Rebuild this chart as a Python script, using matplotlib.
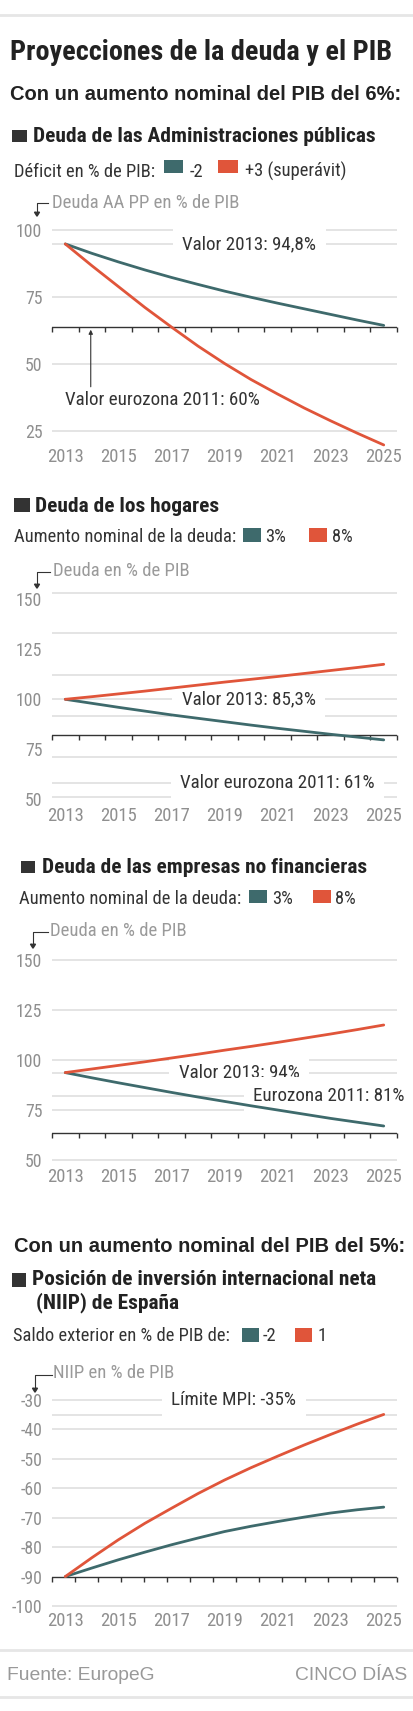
import matplotlib
matplotlib.use('Agg')
import matplotlib.pyplot as plt
from matplotlib.patches import Rectangle, FancyArrow
from matplotlib.lines import Line2D
import matplotlib.transforms as mtransforms
import logging
logging.getLogger('matplotlib.font_manager').setLevel(logging.ERROR)

# datos
anios = [2013, 2014, 2015, 2016, 2017, 2018, 2019, 2020, 2021, 2022, 2023, 2024, 2025]
anios_etiqueta = [2013, 2015, 2017, 2019, 2021, 2023, 2025]
etiquetas_x = ['2013', '2015', '2017', '2019', '2021', '2023', '2025']

aapp_menos2 = [94.8, 91.3, 88.1, 85.1, 82.3, 79.7, 77.2, 74.9, 72.7, 70.6, 68.5, 66.4, 64.4]
aapp_mas3 = [94.8, 86.7, 78.9, 71.1, 63.8, 56.7, 50.2, 44.2, 38.8, 33.6, 28.8, 24.2, 19.8]

hogares_3 = [100, 98.0, 96.0, 94.1, 92.2, 90.5, 88.8, 87.1, 85.5, 84.0, 82.5, 81.1, 79.7]
hogares_8 = [100, 101.3, 102.7, 104.1, 105.6, 107.1, 108.6, 110.0, 111.4, 112.9, 114.4, 115.9, 117.5]

empresas_3 = [93.7, 91.1, 88.6, 86.2, 83.8, 81.5, 79.3, 77.1, 75.0, 72.9, 70.8, 68.9, 67.0]
empresas_8 = [93.7, 95.5, 97.3, 99.1, 101.0, 102.9, 104.9, 106.8, 108.8, 110.9, 113.0, 115.2, 117.5]

niip_menos2 = [-90, -87.1, -84.3, -81.7, -79.2, -76.9, -74.7, -72.9, -71.3, -69.8, -68.4, -67.3, -66.4]
niip_1 = [-90, -83.6, -77.5, -71.9, -66.8, -61.8, -57.2, -53.0, -49.1, -45.3, -41.7, -38.2, -34.9]

W, H = 414, 1711
TEAL = '#3e6a6c'
RED = '#e0553a'
DARK = '#333333'
GRAY = '#8f8f8f'
GRID = '#dcdcdc'
NARROW = ['Roboto Condensed', 'Liberation Sans Narrow', 'Roboto', 'DejaVu Sans']
SANS = ['Liberation Sans', 'DejaVu Sans']
FS = 13.7   # notas
FL = 13.3   # leyendas

fig = plt.figure(figsize=(W / 100, H / 100), dpi=100)
fig.patch.set_facecolor('white')


def fy(y):
    return 1 - y / H


def txt(x, y, s, size, color=DARK, weight='normal', family=NARROW, ha='left'):
    fig.text(x / W, fy(y), s, fontsize=size, color=color, fontweight=weight,
             family=family, ha=ha, va='baseline')


def rect(x0, y0, x1, y1, color):
    fig.patches.append(Rectangle((x0 / W, fy(y1)), (x1 - x0) / W, (y1 - y0) / H,
                                 transform=fig.transFigure, color=color, lw=0))


def hline(y, x0=0, x1=W, color='#e6e6e6', lw=2):
    fig.lines.append(Line2D([x0 / W, x1 / W], [fy(y), fy(y)], transform=fig.transFigure,
                            color=color, lw=lw))


def bracket(x0, x1, y0, y1):
    fig.lines.append(Line2D([x1 / W, x0 / W, x0 / W], [fy(y0), fy(y0), fy(y1 - 3)],
                            transform=fig.transFigure, color=DARK, lw=0.8))
    fig.patches.append(FancyArrow(
        x0 / W, fy(y1 - 4), 0, -0.0001, width=0, head_width=5 / W, head_length=4 / H,
        transform=fig.transFigure, color=DARK, length_includes_head=False))


def grafico(top, bot, ylim, ticks_y, grid, eje, serie_a, serie_b, xticks_eje, lab_y):
    ax = fig.add_axes([52 / W, fy(bot), (397 - 52) / W, (bot - top) / H])
    ax.set_xlim(2012.5, 2025.5)
    ax.set_ylim(*ylim)
    for s in ax.spines.values():
        s.set_visible(False)
    for g in grid:
        ax.axhline(g, color=GRID, lw=1.1, zorder=1)
    ax.axhline(eje, color=DARK, lw=1.0, zorder=2)
    for t in xticks_eje:
        ax.plot([t], [eje], marker=3, ms=3.5, color=DARK, mew=1.0, zorder=2, clip_on=False)
    ax.set_xticks([])
    ax.set_yticks(ticks_y)
    ax.set_yticklabels([str(t) for t in ticks_y], fontsize=12.8, color=GRAY, family=NARROW)
    ax.tick_params(axis='y', length=0, pad=7)
    ax.plot(anios, serie_a, color=TEAL, lw=2.0, zorder=4, solid_capstyle='round',
            solid_joinstyle='round')
    ax.plot(anios, serie_b, color=RED, lw=2.0, zorder=4, solid_capstyle='round',
            solid_joinstyle='round')
    tr = mtransforms.blended_transform_factory(ax.transData, fig.transFigure)
    for a, e in zip(anios_etiqueta, etiquetas_x):
        ax.text(a, fy(lab_y), e, transform=tr, ha='center', va='center', fontsize=13.4,
                color=GRAY, family=NARROW, clip_on=False)
    return ax


def nota(ax, x, y, s, ha='center'):
    ax.text(x, y, s, ha=ha, va='center', fontsize=FS, color=DARK, family=NARROW, zorder=3,
            bbox=dict(boxstyle='square,pad=0.5', fc='white', ec='none'), clip_on=False)


# cabecera
hline(15)
txt(10, 60, 'Proyecciones de la deuda y el PIB', 20.3, color='#222222', weight='bold')
txt(10, 100, 'Con un aumento nominal del PIB del 6%:', 14.5, color='#222222', weight='bold', family=SANS)

# ---- Grafico 1
rect(12, 130, 27, 142, '#333333')
txt(33, 141.7, 'Deuda de las Administraciones públicas', 15.4, color='#222222', weight='bold')
txt(14, 176.7, 'Déficit en % de PIB:', FL)
rect(164, 160, 183, 173, TEAL)
txt(190, 176.7, '-2', FL)
rect(218, 160, 238, 173, RED)
txt(245, 176.7, '+3 (superávit)', FL)
txt(52, 208, 'Deuda AA PP en % de PIB', 13.5, color='#9a9a9a')
bracket(37, 48, 203, 216)
ppu = 2.68
ylim1 = (100 - (450 - 230) / ppu, 100 + (230 - 220) / ppu)
ax1 = grafico(220, 450, ylim1, [25, 50, 75, 100], [100, 94.8, 75, 50, 25], 63.75,
              aapp_menos2, aapp_mas3, [2012.5 + i for i in range(14)], 456.5)
nota(ax1, 2019.94, 94.8, 'Valor 2013: 94,8%')
ax1.text(2013.0, 36.4, 'Valor eurozona 2011: 60%', ha='left', va='center', fontsize=FS,
         color=DARK, family=NARROW)
ax1.annotate('', xy=(2013.96, 62.8), xytext=(2013.96, 41.5),
             arrowprops=dict(arrowstyle='-|>', color=DARK, lw=0.8, mutation_scale=6,
                             shrinkA=0, shrinkB=0))

# ---- Grafico 2
rect(14, 498, 30, 512, '#333333')
txt(35, 511.7, 'Deuda de los hogares', 15.4, color='#222222', weight='bold')
txt(14, 541.7, 'Aumento nominal de la deuda:', FL)
rect(243, 528, 261, 542, TEAL)
txt(265, 541.7, '3%', FL)
rect(309, 528, 327, 542, RED)
txt(332, 541.7, '8%', FL)
txt(53, 576, 'Deuda en % de PIB', 13.5, color='#9a9a9a')
bracket(37, 50, 571.5, 588)
ppu = 2.0
ylim2 = (100 - (802 - 699.3) / ppu, 100 + (699.3 - 588) / ppu)
ax2 = grafico(588, 802, ylim2, [50, 75, 100, 125, 150],
              [153, 133, 112.2, 100, 91.7, 71, 58, 51.3], 82.2,
              hogares_3, hogares_8, [2012.5 + i for i in range(14)], 816)
nota(ax2, 2019.92, 100, 'Valor 2013: 85,3%')
nota(ax2, 2021.0, 58, 'Valor eurozona 2011: 61%')

# ---- Grafico 3
rect(21, 861, 35, 873, '#333333')
txt(42, 873, 'Deuda de las empresas no financieras', 15.4, color='#222222', weight='bold')
txt(19, 904, 'Aumento nominal de la deuda:', FL)
rect(249, 890, 267, 903, TEAL)
txt(272, 904, '3%', FL)
rect(313, 890, 331, 903, RED)
txt(335, 904, '8%', FL)
txt(50, 936, 'Deuda en % de PIB', 13.5, color='#9a9a9a')
bracket(33, 48, 931.5, 948)
ylim3 = (100 - (1164 - 1060) / ppu, 100 + (1060 - 954) / ppu)
ax3 = grafico(954, 1164, ylim3, [50, 75, 100, 125, 150], [150, 125, 100, 93.7, 82.2, 75, 50], 63.7,
              empresas_3, empresas_8, [2012.5 + i for i in range(14)], 1177)
nota(ax3, 2019.55, 93.7, 'Valor 2013: 94%')
nota(ax3, 2022.94, 82.2, 'Eurozona 2011: 81%')

# ---- Grafico 4
txt(14, 1251.7, 'Con un aumento nominal del PIB del 5%:', 14.5, color='#222222', weight='bold', family=SANS)
rect(12, 1273, 26, 1287, '#333333')
txt(32, 1285, 'Posición de inversión internacional neta', 15.4, color='#222222', weight='bold')
txt(36, 1308, '(NIIP) de España', 15.4, color='#222222', weight='bold')
txt(13, 1340.7, 'Saldo exterior en % de PIB de:', FL)
rect(242, 1328, 259, 1342, TEAL)
txt(263, 1340.7, '-2', FL)
rect(295, 1328, 312, 1342, RED)
txt(318, 1340.7, '1', FL)
txt(53, 1378, 'NIIP en % de PIB', 13.5, color='#9a9a9a')
bracket(35, 52, 1375, 1392)
ppu = 2.943
ylim4 = (-30 - (1612 - 1400) / ppu, -30 + (1400 - 1392) / ppu)
ax4 = grafico(1392, 1612, ylim4, [-100, -90, -80, -70, -60, -50, -40, -30],
              [-30, -35, -40, -50, -60, -70, -80, -100], -90,
              niip_menos2, niip_1, [2012.5 + i * 13 / 15 for i in range(16)], 1620.7)
nota(ax4, 2019.34, -30, 'Límite MPI: -35%')

# pie
hline(1650)
txt(7, 1680, 'Fuente: EuropeG', 13.9, color='#999999', family=SANS)
txt(407, 1680, 'CINCO DÍAS', 13.9, color='#999999', family=SANS, ha='right')
hline(1697)

fig.savefig('out.png', dpi=100, facecolor='white')
